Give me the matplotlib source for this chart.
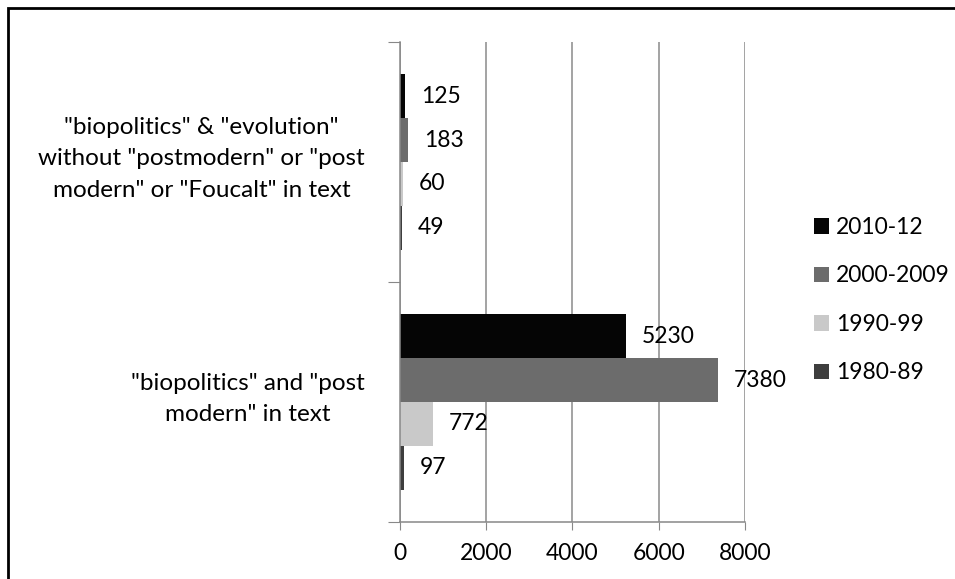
import matplotlib.pyplot as plt
from matplotlib.patches import Rectangle, Patch
from matplotlib.transforms import blended_transform_factory

plt.rcParams['font.family'] = ['Lato', 'DejaVu Sans']

# categories, bottom to top
categories = [
    '"biopolitics" and "post\nmodern" in text',
    '"biopolitics" & "evolution"\nwithout "postmodern" or "post\nmodern" or "Foucalt" in text',
]
periods = ['2010-12', '2000-2009', '1990-99', '1980-89']
counts = {
    '2010-12': [5230, 125],
    '2000-2009': [7380, 183],
    '1990-99': [772, 60],
    '1980-89': [97, 49],
}
colors = ['#050505', '#6c6c6c', '#c9c9c9', '#3e3e3e']
xticks = [0, 2000, 4000, 6000, 8000]

num_size = 16.5
cat_size = 17.5

fig = plt.figure(figsize=(9.55, 5.79), dpi=100)
ax = fig.add_axes([0.4188, 0.0984, 0.3613, 0.8291])

bar_h = 0.183
offsets = [1.5 * bar_h, 0.5 * bar_h, -0.5 * bar_h, -1.5 * bar_h]
ypos = list(range(len(categories)))

for period, off, col in zip(periods, offsets, colors):
    bars = ax.barh([y + off for y in ypos], counts[period], height=bar_h,
                   color=col, label=period, zorder=2)
    ax.bar_label(bars, padding=11.5, fontsize=num_size, color='black', zorder=3)

ax.set_xlim(0, 8000)
ax.set_ylim(-0.5, len(categories) - 0.5)
ax.set_xticks(xticks)
ax.set_xticklabels([str(t) for t in xticks], fontsize=num_size)
ax.set_yticks([-0.5, 0.5, 1.5])
ax.set_yticklabels([])
ax.tick_params(axis='x', length=6, color='#888888', pad=9)
ax.tick_params(axis='y', length=9, color='#888888')
ax.xaxis.grid(True, color='#8a8a8a', linewidth=1.1, zorder=0)
ax.set_axisbelow(True)
for side in ['top', 'right']:
    ax.spines[side].set_visible(False)
for side in ['left', 'bottom']:
    ax.spines[side].set_color('#888888')
    ax.spines[side].set_linewidth(1.1)

# category names to the left of the axis
trans = blended_transform_factory(ax.transAxes, ax.transData)
for y, name in zip(ypos, categories):
    ax.text(-0.102, y + 0.013, name, transform=trans, ha='right', va='center',
            multialignment='center', fontsize=cat_size, linespacing=1.62)

handles = [Patch(facecolor=c, label=p) for p, c in zip(periods, colors)]
fig.legend(handles=handles, loc='upper left',
           bbox_to_anchor=(0.831, 0.661), frameon=False,
           fontsize=num_size, handlelength=0.65, handleheight=0.65,
           handletextpad=0.3, labelspacing=1.2)

# frame around the chart
fig.patches.append(Rectangle((8 / 955, -0.1), 1.2, 1 - 8 / 579 + 0.1,
                             transform=fig.transFigure, fill=False,
                             edgecolor='black', linewidth=2))

fig.savefig('out.png', dpi=100)
